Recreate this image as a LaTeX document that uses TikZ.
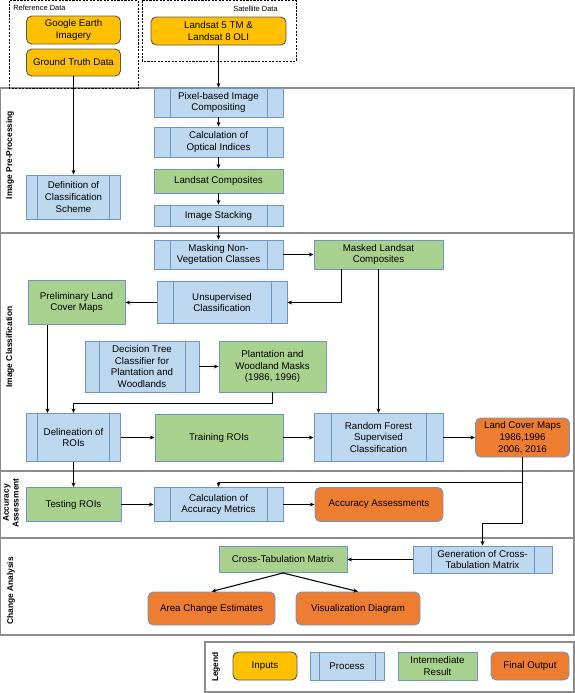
\documentclass[tikz,border=0pt]{standalone}
\usepackage{fontspec}
\setmainfont{Liberation Sans}
\usetikzlibrary{arrows.meta}
\definecolor{cyel}{HTML}{FFC000}
\definecolor{cblu}{HTML}{BDD7EE}
\definecolor{cgrn}{HTML}{A9D18E}
\definecolor{corg}{HTML}{ED7D31}
\definecolor{bblu}{HTML}{6F95C2}
\definecolor{byel}{HTML}{5E5A50}
\definecolor{csec}{HTML}{8C8C8C}
\begin{document}
\begin{tikzpicture}[x=0.75pt,y=-0.75pt,
  base/.style={draw=bblu,line width=0.7pt,align=center,inner sep=1pt,font=\fontsize{7.3}{8.8}\selectfont,text=black},
  inbox/.style={base,fill=cyel,draw=byel,rounded corners=4pt},
  midbox/.style={base,fill=cgrn},
  outbox/.style={base,fill=corg,rounded corners=4pt},
  procbox/.style={base,fill=cblu,
    path picture={\draw[bblu,line width=0.7pt]
      ([xshift=#1*0.75pt]path picture bounding box.north west) -- ([xshift=#1*0.75pt]path picture bounding box.south west)
      ([xshift=-#1*0.75pt]path picture bounding box.north east) -- ([xshift=-#1*0.75pt]path picture bounding box.south east);}},
  procbox/.default=16,
  sz/.style 2 args={minimum width=#1*0.75pt,minimum height=#2*0.75pt},
  arr/.style={draw=black,line width=0.8pt,-{Stealth[length=3.5pt,width=3pt]}},
  section/.style={draw=csec,line width=0.8pt},
  dashbox/.style={draw=black,line width=0.6pt,dash pattern=on 1.6pt off 1pt},
  seclabel/.style={rotate=90,font=\bfseries\fontsize{6.3}{7.3}\selectfont,align=center,inner sep=0pt},
  small/.style={font=\fontsize{5.6}{6.5}\selectfont,inner sep=0pt}
]
\useasboundingbox (0,0) rectangle (575,693);
% sections
\draw[section] (0.5,88) rectangle (574,233);
\draw[section] (0.5,233) rectangle (574,471);
\draw[section] (0.5,471) rectangle (574,538);
\draw[section] (0.5,538) rectangle (574,635);
\draw[section] (205,642) rectangle (574,692);
\node[seclabel] (l1) at (10,155) {Image Pre-Processing};
\node[seclabel] (l2) at (10,347) {Image Classification};
\node[seclabel] (l3) at (11,503) {Accuracy\\Assessment};
\node[seclabel] (l4) at (11,591) {Change Analysis};
\node[seclabel] (l5) at (216,667) {Legend};
% data boxes
\draw[dashbox] (9,0.5) rectangle (138,88);
\draw[dashbox] (142,0.5) rectangle (296,61);
\node[small,anchor=west] (refl) at (13,8) {Reference Data};
\node[small,anchor=east] (satl) at (278,9) {Satellite Data};
\node[inbox,sz={94}{28}] (ge) at (73.5,30) {Google Earth\\Imagery};
\node[inbox,sz={94}{27}] (gt) at (73.5,62.5) {Ground Truth Data};
\node[inbox,sz={135}{28}] (ls) at (218.5,31) {Landsat 5 TM \&\\Landsat 8 OLI};
% pre-processing
\node[procbox,sz={129}{29}] (pix) at (218.5,102.5) {Pixel-based Image\\Compositing};
\node[procbox,sz={129}{30}] (calc) at (218.5,142) {Calculation of\\Optical Indices};
\node[midbox,sz={129}{24}] (lcomp) at (218.5,181) {Landsat Composites};
\node[procbox,sz={129}{21}] (stack) at (218.5,215.5) {Image Stacking};
\node[procbox=11,sz={94}{44}] (def) at (73.5,197) {Definition of\\Classification\\Scheme};
% classification
\node[procbox,sz={129}{29}] (mask) at (218.5,254.5) {Masking Non-\\Vegetation Classes};
\node[midbox,sz={129}{29}] (masked) at (378.5,254.5) {Masked Landsat\\Composites};
\node[procbox,sz={130}{42}] (unsup) at (222,302.5) {Unsupervised\\Classification};
\node[midbox,sz={97}{44}] (prelim) at (76.5,302.5) {Preliminary Land\\Cover Maps};
\node[procbox=14,sz={114}{51}] (dt) at (142,366.5) {Decision Tree\\Classifier for\\Plantation and\\Woodlands};
\node[midbox,sz={107}{51}] (plant) at (272.5,366.5) {Plantation and\\Woodland Masks\\(1986, 1996)};
\node[procbox=11,sz={94}{48}] (del) at (73.5,437.5) {Delineation of\\ROIs};
\node[midbox,sz={128}{47}] (train) at (219,437.5) {Training ROIs};
\node[procbox=17,sz={129}{48}] (rf) at (378.5,437.5) {Random Forest\\Supervised\\Classification};
\node[outbox,sz={94}{39}] (lcm) at (522.5,437.5) {Land Cover Maps\\1986,1996\\2006, 2016};
% accuracy
\node[midbox,sz={95}{34}] (test) at (73.5,504.5) {Testing ROIs};
\node[procbox,sz={129}{34}] (cam) at (218.5,504.5) {Calculation of\\Accuracy Metrics};
\node[outbox,sz={128}{34}] (aa) at (379,504.5) {Accuracy Assessments};
% change
\node[midbox,sz={128}{26}] (ctm) at (283,559.5) {Cross-Tabulation Matrix};
\node[procbox=18,sz={139}{27}] (gen) at (482.5,559.5) {Generation of Cross-\\Tabulation Matrix};
\node[outbox,sz={127}{33}] (ace) at (211.5,608.5) {Area Change Estimates};
\node[outbox,sz={124}{33}] (vis) at (358,608.5) {Visualization Diagram};
% legend
\node[inbox,sz={64}{28}] (linp) at (265,666) {Inputs};
\node[procbox=9,sz={74}{28}] (lproc) at (347,666) {Process};
\node[midbox,sz={79}{28}] (lint) at (437.5,666) {Intermediate\\Result};
\node[outbox,sz={78}{28}] (lfin) at (530,666) {Final Output};
% connectors
\draw[arr] (ls.south) -- (pix.north);
\draw[arr] (gt.south) -- (def.north);
\draw[arr] (pix.south) -- (calc.north);
\draw[arr] (calc.south) -- (lcomp.north);
\draw[arr] (lcomp.south) -- (stack.north);
\draw[arr] (stack.south) -- (mask.north);
\draw[arr] (mask.east) -- (masked.west);
\draw[arr] ([xshift=-37*0.75pt]masked.south) |- (unsup.east);
\draw[arr] (unsup.west) -- (prelim.east);
\draw[arr] ([xshift=-29*0.75pt]prelim.south) -- ([xshift=-26*0.75pt]del.north);
\draw[arr] (dt.east) -- (plant.west);
\draw[arr] (plant.south) -- ++(0,11) -| (del.north);
\draw[arr] (masked.south) -- (rf.north);
\draw[arr] (del.east) -- (train.west);
\draw[arr] (train.east) -- (rf.west);
\draw[arr] (rf.east) -- (lcm.west);
\draw[arr] (del.south) -- (test.north);
\draw[arr] (test.east) -- (cam.west);
\draw[arr] (cam.east) -- (aa.west);
\draw[arr] (lcm.south) -- ++(0,25) -| (cam.north);
\draw[arr] (lcm.south) -- ++(0,66) -| (gen.north);
\draw[arr] (gen.west) -- (ctm.east);
\draw[arr] (ctm.south) -- (ace.north);
\draw[arr] (ctm.south) -- (vis.north);
\end{tikzpicture}
\end{document}
